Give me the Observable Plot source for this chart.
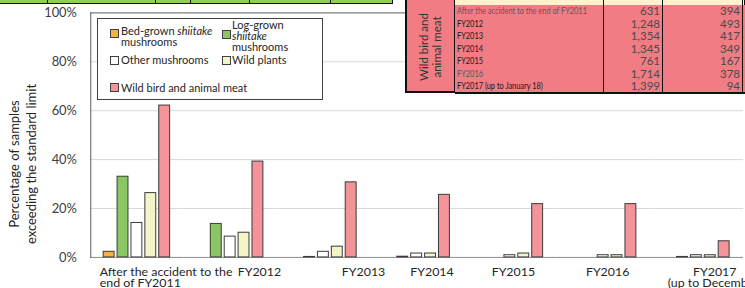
<!DOCTYPE html>
<html>
<head>
<meta charset="utf-8">
<script src="https://cdn.jsdelivr.net/npm/d3@7"></script>
<script src="https://cdn.jsdelivr.net/npm/@observablehq/plot@0.6"></script>
<style>
  html, body { margin: 0; padding: 0; background: #fff; }
  #wrap { position: relative; width: 745px; height: 288px; overflow: hidden; font-family: Lato, "Open Sans", sans-serif; color: #404040; }
  #chart { position: absolute; left: 0; top: 0; }
  .abs { position: absolute; }
  .legend { left: 97px; top: 18px; width: 224px; height: 80px; border: 1px solid #404040; background: #fff; }
  .sw { position: absolute; width: 7px; height: 7px; border: 1px solid #404040; }
  .lt { position: absolute; font-size: 11px; line-height: 11px; color: #262626; white-space: nowrap; }
  .ytitle { left: -76px; top: 146px; width: 200px; height: 36px; transform: rotate(-90deg); text-align: center; font-size: 13px; line-height: 17px; color: #262626; white-space: nowrap; }
  .tcell { position: absolute; box-sizing: border-box; background: #f17c84; border-bottom: 1px solid #111; border-right: 1px solid #111; font-family: Lato, sans-serif; font-size: 9.5px; line-height: 12px; white-space: nowrap; overflow: hidden; }
  .narrow { display: inline-block; transform: scaleX(0.78); transform-origin: 0 50%; }
</style>
</head>
<body>
<div id="wrap">
  <div id="chart"></div>
</div>
<script>
// ---- data ----
const categories = [
  "After the accident to the end of FY2011",
  "FY2012", "FY2013", "FY2014", "FY2015", "FY2016",
  "FY2017 (up to December)"
];
const tickLabels = [
  "After the accident to the\nend of FY2011",
  "FY2012", "FY2013", "FY2014", "FY2015", "FY2016",
  "FY2017\n(up to December)"
];
const series = [
  "Bed-grown shiitake mushrooms",
  "Log-grown shiitake mushrooms",
  "Other mushrooms",
  "Wild plants",
  "Wild bird and animal meat"
];
const bedGrown   = [2.3, 0, 0, 0, 0, 0, 0];
const logGrown   = [33.0, 13.7, 0.2, 0.3, 0, 0, 0.2];
const otherMush  = [14.1, 8.5, 2.3, 1.6, 0.9, 0.9, 0.9];
const wildPlants = [26.3, 10.1, 4.4, 1.6, 1.6, 0.9, 0.9];
const wildMeat   = [62.1, 39.2, 30.7, 25.6, 21.8, 21.8, 6.6];
const colors = ["#f5b23c", "#8bc664", "#ffffff", "#f3f4c8", "#f49498"];
const yTicks = [0, 20, 40, 60, 80, 100];

// overlapping table (top right)
const tableLabels = [
  "After the accident to the end of FY2011", "FY2012", "FY2013", "FY2014",
  "FY2015", "FY2016", "FY2017 (up to January 18)"
];
const tableSamples = ["631", "1,248", "1,354", "1,345", "761", "1,714", "1,399"];
const tableExceeding = ["394", "493", "417", "349", "167", "378", "94"];

// ---- build table ----
const seriesValues = [bedGrown, logGrown, otherMush, wildPlants, wildMeat];
const data = [];
categories.forEach((c, i) => {
  series.forEach((s, j) => {
    data.push({cat: c, series: s, value: seriesValues[j][i]});
  });
});
const labelOf = new Map(categories.map((c, i) => [c, tickLabels[i]]));

// category label placement (as in the original figure)
const labelStyle = [
  {textAnchor: "start", dx: -38},
  {dx: 29}, {dx: 40}, {dx: 15}, {dx: 3}, {dx: 4}, {dx: 18}
];

const chart = Plot.plot({
  width: 751,
  height: 288,
  marginLeft: 88,
  marginRight: 0,
  marginTop: 12.5,
  marginBottom: 29,
  style: {fontFamily: "Lato, 'Open Sans', sans-serif", fontSize: "12.5px", color: "#404040", background: "transparent", overflow: "visible"},
  fx: {domain: categories, padding: 0, label: null, axis: null},
  x: {domain: series, paddingInner: 0.2, paddingOuter: 0.87, axis: null},
  y: {domain: [0, 100], label: null, axis: null},
  color: {domain: series, range: colors},
  marks: [
    Plot.ruleY([20, 40, 60, 80], {stroke: "#d9d9d9", strokeWidth: 1}),
    Plot.ruleY([100], {stroke: "#595959", strokeWidth: 1}),
    Plot.ruleY([0], {stroke: "#8c8c8c", strokeWidth: 1}),
    Plot.frame({anchor: "left", fx: [categories[0]], stroke: "#595959"}),
    Plot.barY(data.filter(d => d.value > 0), {
      fx: "cat", x: "series", y: "value", fill: "series",
      stroke: "#3a3a3a", strokeWidth: 1
    }),
    Plot.axisY(yTicks, {
      anchor: "left", tickSize: 0, tickPadding: 14, label: null,
      tickFormat: d => d + "%", fontSize: 13, fill: "#404040",
      facetAnchor: "left"
    }),
    ...categories.map((c, i) => Plot.axisFx({
      anchor: "bottom", ticks: [c], tickSize: 0, tickPadding: 10.5, label: null,
      tickFormat: d => labelOf.get(d), lineHeight: 0.9, fontSize: 12.5, fill: "#262626",
      ...labelStyle[i]
    }))
  ]
});
document.getElementById("chart").appendChild(chart);

const wrap = document.getElementById("wrap");
function addDiv(cls, style, html) {
  const d = document.createElement("div");
  d.className = cls;
  Object.assign(d.style, style);
  if (html !== undefined) d.innerHTML = html;
  wrap.appendChild(d);
  return d;
}

// y axis title
addDiv("abs ytitle", {}, "Percentage of samples<br>exceeding the standard limit");

// legend
const legend = addDiv("abs legend", {});
function legendItem(color, sx, sy, tx, ty, html) {
  const s = document.createElement("div");
  s.className = "sw";
  Object.assign(s.style, {left: sx + "px", top: sy + "px", background: color});
  legend.appendChild(s);
  const t = document.createElement("div");
  t.className = "lt";
  Object.assign(t.style, {left: tx + "px", top: ty + "px"});
  t.innerHTML = html;
  legend.appendChild(t);
}
legendItem(colors[0], 12, 10, 23, 6, "Bed-grown <i>shiitake</i><br>mushrooms");
legendItem(colors[1], 124, 11, 134, 0, "Log-grown<br><i>shiitake</i><br>mushrooms");
legendItem(colors[2], 12, 37, 23, 35, "Other mushrooms");
legendItem(colors[3], 124, 37, 134, 35, "Wild plants");
legendItem(colors[4], 12, 64, 23, 63, "Wild bird and animal meat");

// green strip at top-left (part of a table above)
addDiv("abs", {left: "0px", top: "0px", width: "392px", height: "3px", background: "#92d050", borderBottom: "1.5px solid #111", borderRight: "1.5px solid #111"});
[47, 155, 190, 249, 330].forEach(x => addDiv("abs", {left: x + "px", top: "0px", width: "1px", height: "4px", background: "#111"}));

// table at top-right
addDiv("abs", {left: "405px", top: "0px", width: "50px", height: "93px", background: "#f17c84", boxSizing: "border-box", borderLeft: "2px solid #111", borderRight: "1px solid #111", borderBottom: "2px solid #111"});
addDiv("abs", {left: "405px", top: "0px", width: "50px", height: "93px"},
  '<div style="position:absolute;left:-25px;top:34px;width:100px;height:26px;transform:rotate(-90deg);text-align:center;font-size:11.5px;line-height:13px;color:#333;white-space:nowrap;">Wild bird and<br>animal meat</div>');
const tableTopY = 5, rowH = 12.5;
// partial header row (yellow)
[[455, 149], [604, 59], [663, 80], [743, 2]].forEach(([x, w]) =>
  addDiv("tcell", {left: x + "px", top: "0px", width: w + "px", height: tableTopY + 1 + "px", background: "#fff2cc"}));
tableLabels.forEach((lab, i) => {
  const y = tableTopY + i * rowH;
  const bb = i === tableLabels.length - 1 ? "2px solid #111" : "1px solid #111";
  const dim = (i === 0 || i === 5) ? "#5a5a5a" : "#1a1a1a";
  addDiv("tcell", {left: "455px", top: y + "px", width: "149px", height: rowH + 1 + "px", paddingLeft: "2px", color: dim, borderBottom: bb}, '<span class="narrow">' + lab + '</span>');
  addDiv("tcell", {left: "604px", top: y + "px", width: "59px", height: rowH + 1 + "px", textAlign: "right", paddingRight: "2px", fontSize: "11.5px", color: "#4a4a4a", borderBottom: bb}, tableSamples[i]);
  addDiv("tcell", {left: "663px", top: y + "px", width: "80px", height: rowH + 1 + "px", textAlign: "right", paddingRight: "2px", fontSize: "11.5px", color: "#4a4a4a", borderBottom: bb}, tableExceeding[i]);
  addDiv("tcell", {left: "743px", top: y + "px", width: "4px", height: rowH + 1 + "px", borderBottom: bb}, "");
});
</script>
</body>
</html>
